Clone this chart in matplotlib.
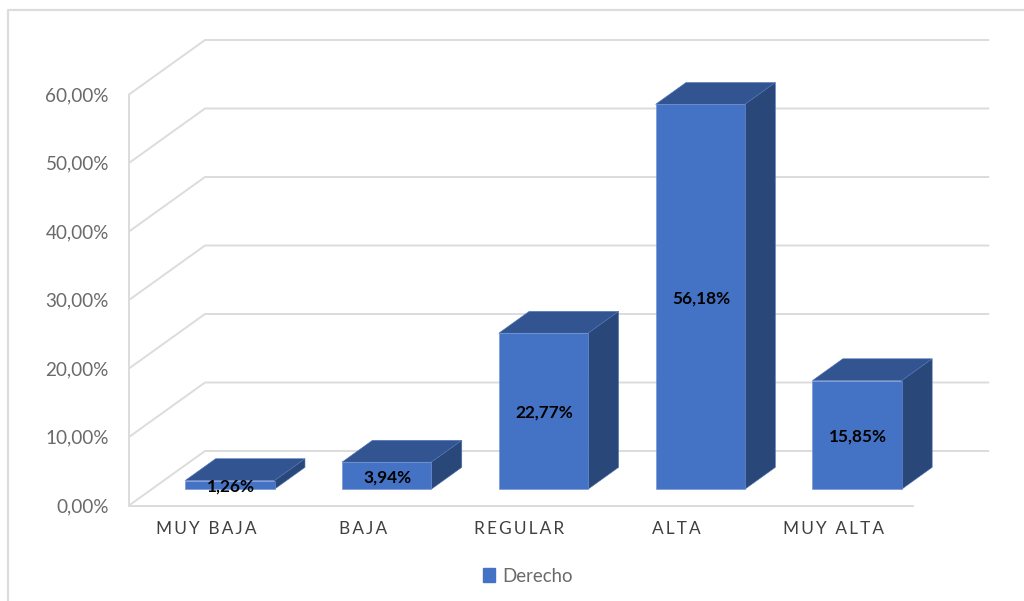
import matplotlib
matplotlib.use("Agg")
import matplotlib.pyplot as plt
from matplotlib.lines import Line2D
from matplotlib.patches import Patch, Polygon

categories = ["MUY BAJA", "BAJA", "REGULAR", "ALTA", "MUY ALTA"]
values = [1.26, 3.94, 22.77, 56.18, 15.85]
value_labels = ["1,26%", "3,94%", "22,77%", "56,18%", "15,85%"]
y_ticks = [0, 10, 20, 30, 40, 50, 60]
y_tick_labels = ["0,00%", "10,00%", "20,00%", "30,00%", "40,00%", "50,00%", "60,00%"]
series_name = "Derecho"

W, H = 1024, 601
FRONT = "#4472C4"
TOP = "#325592"
SIDE = "#2A4779"
GRID = "#DCDCDC"

# how far the back wall sits from the front, in data units
DEPTH_X = 76 / 156.8
DEPTH_Y = 54.5 / 6.85
BAR_W = 0.57
BAR_START = 0.3
BAR_END = 0.7


def skew(x, y, d):
    return (x + d * DEPTH_X, y + d * DEPTH_Y)


plt.rcParams['font.family'] = ['Lato', 'DejaVu Sans']
fig = plt.figure(figsize=(W / 100, H / 100), dpi=100)
ax = fig.add_axes([129 / W, 1 - 505.5 / H, 784 / W, 411 / H])
ax.set_xlim(0, 5)
ax.set_ylim(0, 60)
ax.axis("off")

# outer frame, only top and left are visible
fig.add_artist(Line2D([8 / W, 8 / W, 1], [0, 1 - 10 / H, 1 - 10 / H], color=GRID, lw=1.6))

# walls
for t in y_ticks:
    p0 = skew(0, t, 0)
    p1 = skew(0, t, 1)
    p2 = skew(4.995, t, 1)
    ax.plot([p0[0], p1[0], p2[0]], [p0[1], p1[1], p2[1]], color=GRID, lw=1.4,
            clip_on=False, solid_joinstyle="miter", zorder=1)
ax.plot([0, 0], [0, 60], color=GRID, lw=1.4, clip_on=False, zorder=1)
ax.plot([0, 5], [0, 0], color=GRID, lw=1.4, clip_on=False, zorder=1)

# bars
for i, v in enumerate(values):
    x0 = i + 0.5 - BAR_W / 2 - 0.002
    x1 = i + 0.5 + BAR_W / 2 - 0.002
    top = [skew(x0, v, BAR_START), skew(x1, v, BAR_START), skew(x1, v, BAR_END), skew(x0, v, BAR_END)]
    side = [skew(x1, 0, BAR_START), skew(x1, 0, BAR_END), skew(x1, v, BAR_END), skew(x1, v, BAR_START)]
    front = [skew(x0, 0, BAR_START), skew(x1, 0, BAR_START), skew(x1, v, BAR_START), skew(x0, v, BAR_START)]
    ax.add_patch(Polygon(top, facecolor=TOP, edgecolor="#4F74B8", lw=0.4, clip_on=False, zorder=3))
    ax.add_patch(Polygon(side, facecolor=SIDE, edgecolor="#4F74B8", lw=0.4, clip_on=False, zorder=3))
    ax.add_patch(Polygon(front, facecolor=FRONT, edgecolor="#6F90CE", lw=0.4, clip_on=False, zorder=3))
    cx, cy = skew(i + 0.5, v / 2, BAR_START)
    ax.text(cx + 0.004, cy - 0.25, value_labels[i], ha="center", va="center", fontsize=12.4, fontweight="bold",
            color="black", zorder=5)

for t, lab in zip(y_ticks, y_tick_labels):
    ax.text(-20 / 156.8, t - 0.15, lab, ha="right", va="center", fontsize=13.6, color="#6A6A6A", clip_on=False)

# no letter spacing in matplotlib, thin spaces do it
for i, c in enumerate(categories):
    ax.text(i + 0.49, -24 / 6.85, "\u2009".join(c).replace("\u2009 \u2009", "  "), ha="center", va="center",
            fontsize=12.4, color="#404040", clip_on=False)

fig.legend(handles=[Patch(facecolor=FRONT, edgecolor=FRONT, label=series_name)],
           loc="center", bbox_to_anchor=(528 / W, 1 - 576 / H), frameon=False, fontsize=13.4,
           labelcolor="#6A6A6A", handlelength=0.62, handleheight=0.85, handletextpad=0.4)

fig.savefig("out.png", dpi=100)
